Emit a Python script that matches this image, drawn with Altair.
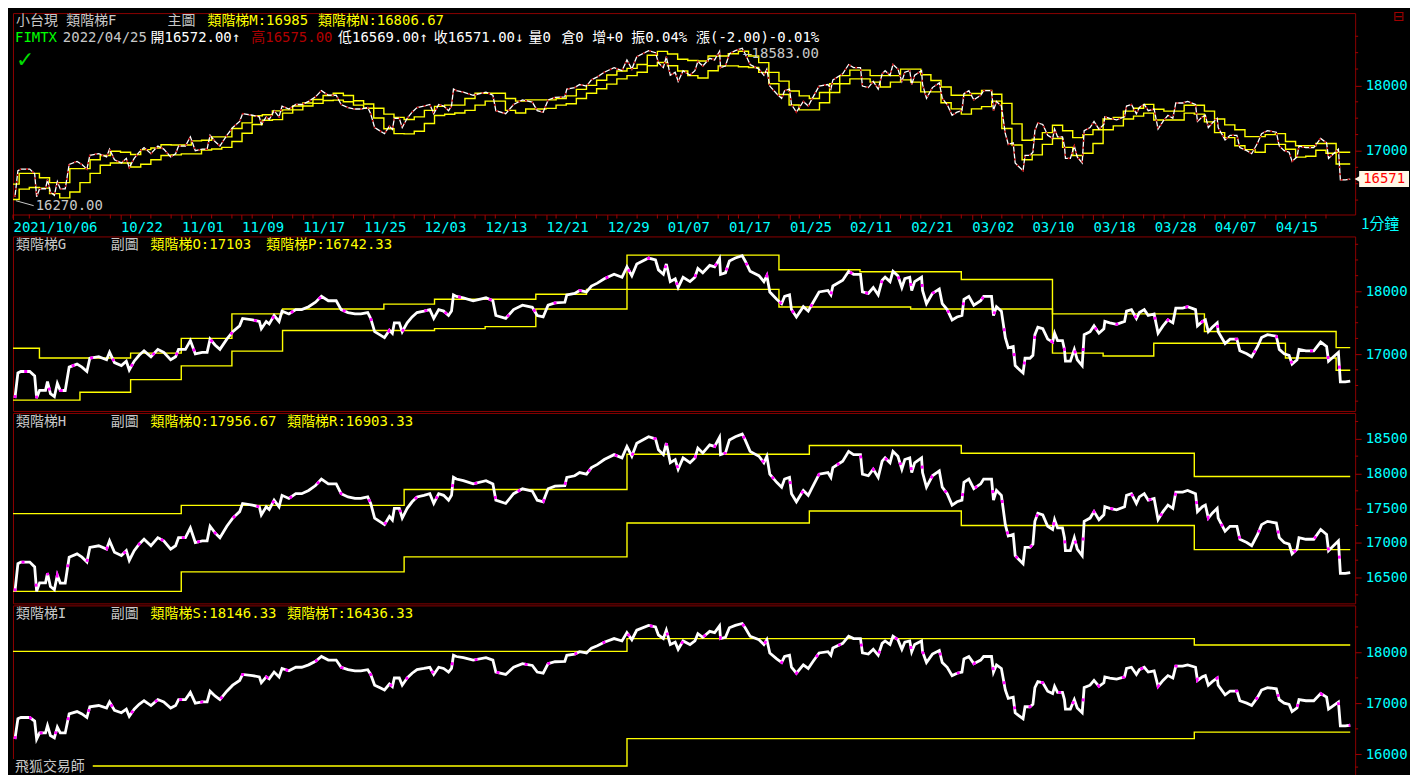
import altair as alt
import pandas as pd

FONT = "DejaVu Sans Mono, Noto Sans CJK TC, monospace"
CJK = "Noto Sans CJK TC, DejaVu Sans, sans-serif"
CYAN = "#00FFFF"
YEL = "#FFFF00"
DRED = "#8B0000"
GREY = "#C8C8C8"
WHITE = "#FFFFFF"
MAG = "#FF00FF"

BAR_PER_DAY = 10.28
DAY_SHIFT = 4
END_BAR = 1357
X_MAX = 1362
W = 1346
H1, H2, H3, H4 = 202, 175, 191, 171

# ---------------- price series (bar index, close) ----------------
price_bar = [2, 5, 8, 17, 22, 24, 27, 33, 35, 38, 42, 45, 48, 53, 57, 65, 70, 75, 78, 87,
             95, 98, 103, 110, 115, 118, 123, 128, 133, 140, 147, 153, 160, 165, 168, 175, 180, 185, 192, 197,
             200, 205, 210, 217, 223, 230, 233, 243, 250, 252, 257, 260, 265, 270, 273, 280, 287, 293, 300, 307,
             313, 320, 328, 333, 340, 347, 353, 360, 363, 367, 372, 377, 382, 385, 387, 392, 395, 400, 405, 410,
             417, 423, 427, 432, 437, 442, 445, 447,
             450, 457, 467, 480, 487, 490, 500, 508, 517, 527, 532, 538, 543, 550, 560, 562, 570, 575, 582, 587,
             593, 600, 610, 618, 623, 628, 633, 645, 652, 655, 660, 663, 667, 672, 675, 680, 687, 692, 695, 700,
             707, 712, 717, 718, 723, 727, 733, 740, 743, 748, 757, 762, 765, 768, 775, 780, 783, 788, 790, 795,
             802, 807, 812, 818, 827, 830, 832, 842, 848, 853, 860, 862, 868, 873, 878, 882, 885, 890, 893, 898,
             902, 905, 910,
             912, 915, 922, 923, 927, 933, 940, 943, 948, 953, 958, 963, 965, 970, 975, 982, 985, 993, 995, 998,
             1003, 1007, 1010, 1015, 1017, 1020, 1025, 1027, 1032, 1035, 1037, 1040, 1045, 1050, 1055, 1057, 1060, 1065, 1067, 1068,
             1073, 1077, 1080, 1085, 1087, 1093, 1097, 1102, 1107, 1108, 1113, 1120, 1128, 1130, 1135, 1140, 1143, 1148, 1152, 1158,
             1162, 1167, 1172, 1177, 1180, 1187, 1192, 1200, 1202, 1207, 1210, 1213, 1217, 1222, 1223, 1230, 1235, 1242, 1245, 1252,
             1257, 1263, 1267, 1273, 1282, 1285, 1290, 1295, 1298, 1303, 1305, 1312, 1320, 1327, 1333, 1335, 1340, 1345, 1347, 1352,
             1357]
price_close = [16300, 16700, 16723, 16723, 16652, 16300, 16423, 16423, 16563, 16370, 16324, 16535, 16420, 16420, 16793, 16840, 16793, 16723, 16934, 16958,
               16910, 17028, 16864, 16817, 16887, 16746, 16887, 16981, 17052, 16958, 17075, 17028, 16910, 16958, 17075, 17075, 17216, 17005, 17028, 17028,
               17239, 17145, 17075, 17239, 17357, 17450, 17568, 17545, 17520, 17404, 17520, 17480, 17615, 17520, 17685, 17640, 17709, 17709, 17756, 17826,
               17920, 17850, 17850, 17709, 17662, 17640, 17640, 17662, 17568, 17357, 17310, 17263, 17380, 17330, 17498, 17498, 17357, 17498, 17592, 17662,
               17685, 17709, 17568, 17709, 17685, 17615, 17685, 17944,
               17920, 17897, 17850, 17897, 17850, 17615, 17568, 17709, 17779, 17745, 17615, 17592, 17779, 17817, 17826, 17944, 17967, 18014, 17990, 18085,
               18131, 18201, 18272, 18225, 18390, 18249, 18437, 18531, 18500, 18342, 18272, 18437, 18155, 18200, 18061, 18225, 18155, 18225, 18366, 18296,
               18413, 18390, 18521, 18272, 18296, 18484, 18531, 18568, 18484, 18319, 18249, 18155, 18249, 17990, 17873, 17803, 17920, 17944, 17709, 17592,
               17756, 17685, 17826, 17990, 18014, 17944, 18085, 18178, 18319, 18272, 18272, 17990, 17967, 18061, 17944, 18178, 18225, 18155, 18319, 18249,
               18061, 18201, 18225,
               18014, 18155, 18225, 18014, 17803, 17967, 18038, 17803, 17709, 17545, 17592, 17615, 17873, 17920, 17780, 17850, 17920, 17920, 17615, 17756,
               17685, 17263, 17099, 17122, 16817, 16770, 16700, 16934, 16934, 16981, 17310, 17427, 17404, 17239, 17192, 17333, 17216, 17216, 17075, 16887,
               16887, 17075, 16910, 16817, 17310, 17357, 17450, 17333, 17404, 17521, 17498, 17475, 17521, 17685, 17709, 17568, 17662, 17709, 17615, 17640,
               17333, 17450, 17545, 17498, 17732, 17732, 17756, 17709, 17450, 17521, 17545, 17357, 17427, 17498, 17357, 17169, 17239, 17239, 17052, 17005,
               16958, 17122, 17263, 17310, 17286, 17075, 17005, 16981, 16840, 16910, 17075, 17052, 17052, 17192, 17122, 16887, 16958, 17028, 16559, 16559,
               16571]

# ---------------- daily ladders M / N (panel F), one value per trading day ----------------
ladder_m = [16493, 16657, 16657, 16592, 16517, 16517, 16731, 16731, 16866, 16930,
            16995, 16980, 16945, 17020, 17045, 17095, 17090, 17090, 17154, 17164,
            17214, 17214, 17343, 17428, 17537, 17552, 17612, 17627, 17687, 17731,
            17786, 17846, 17881, 17846, 17766, 17716, 17652, 17562, 17512,
            17480, 17520, 17620, 17680, 17700, 17700, 17800, 17880, 17880, 17880,
            17800, 17760, 17780, 17780, 17780, 17800, 17840, 17940, 18000, 18080,
            18160, 18220, 18260, 18320, 18460, 18520, 18480, 18400, 18380,
            18373, 18448, 18448, 18483, 18522, 18448, 18348, 18199, 18065, 17915,
            17841, 17801, 17891, 18025, 18149, 18234, 18234, 18149, 18149, 18149,
            18249, 18249, 18164, 18075, 17975, 17851, 17851, 17876, 17925, 17866,
            17726, 17413, 17164, 17179,
            17279, 17393, 17308, 17204, 17249, 17323, 17488, 17512, 17607, 17652,
            17711, 17637, 17607, 17607, 17697, 17697, 17607, 17488, 17398, 17323,
            17219, 17219, 17249, 17264, 17144, 17080, 17080, 17114, 17114, 16980]
ladder_n = [16258, 16418, 16443, 16433, 16348, 16284, 16373, 16517, 16657, 16781,
            16816, 16816, 16756, 16796, 16866, 16930, 16940, 16955, 16955, 17015,
            17030, 17055, 17144, 17269, 17403, 17468, 17478, 17577, 17627, 17687,
            17726, 17771, 17776, 17751, 17700, 17652, 17502, 17338, 17264,
            17260, 17300, 17420, 17540, 17560, 17580, 17620, 17700, 17760, 17760,
            17620, 17580, 17640, 17640, 17650, 17700, 17720, 17800, 17880, 17950,
            18020, 18100, 18150, 18200, 18300, 18350, 18300, 18220, 18150,
            18114, 18224, 18299, 18299, 18284, 18274, 18199, 18025, 17861, 17701,
            17627, 17627, 17736, 17891, 18025, 18100, 18100, 18050, 17975, 18050,
            18085, 18050, 17901, 17901, 17736, 17642, 17562, 17642, 17677, 17761,
            17343, 17090, 16866, 16940,
            17100, 17189, 17055, 16930, 16965, 17114, 17323, 17383, 17488, 17532,
            17577, 17473, 17473, 17473, 17577, 17562, 17443, 17279, 17204, 17080,
            17020, 16980, 17100, 17100, 17025, 16905, 16920, 17010, 16965, 16801]

# ---------------- weekly ladders O / P (panel G) ----------------
week_start_day = [0, 3, 7, 12, 17, 22, 27, 32, 37, 42, 47, 52, 57, 61, 66, 71, 76, 79, 84, 89,
                  94, 98, 103, 108, 113, 118, 121, 126, 131]
ladder_o = [17094, 16938, 16938, 17016, 17250, 17641, 17719, 17719, 17797, 17875,
            17875, 17953, 18031, 18578, 18578, 18578, 18344, 18344, 18313, 18313,
            18188, 18188, 17641, 17641, 17641, 17359, 17359, 17359, 17103]
ladder_p = [16266, 16266, 16391, 16594, 16813, 17047, 17375, 17375, 17375, 17406,
            17438, 17719, 17719, 18031, 18031, 18031, 17750, 17750, 17750, 17719,
            17719, 17719, 17016, 16969, 17172, 17172, 17172, 16938, 16742]

# ---------------- monthly ladders Q / R (panel H) ----------------
month_start_day = [0, 17, 39, 61, 79, 94, 117]
ladder_q = [17422, 17540, 17770, 18277, 18404, 18291, 17957]
ladder_r = [16300, 16582, 16798, 17286, 17460, 17250, 16903]

# ---------------- quarterly ladders S / T (panel I) ----------------
quarter_start_day = [0, 61, 117]
ladder_s = [18020, 18270, 18146]
ladder_t = [15770, 16308, 16436]

# ---------------- x tick labels ----------------
date_days = [0, 11, 17, 23, 29, 35, 41, 47, 53, 59, 65, 71, 77, 83, 89, 95, 101, 107, 113, 119, 125]
date_labels = ["2021/10/06", "10/22", "11/01", "11/09", "11/17", "11/25", "12/03", "12/13", "12/21",
               "12/29", "01/07", "01/17", "01/25", "02/11", "02/21", "03/02", "03/10", "03/18",
               "03/28", "04/07", "04/15"]


def day_bar(d):
    return max(0.0, d * BAR_PER_DAY - DAY_SHIFT)


def ladder(days, values, name):
    rows = [{"bar": day_bar(d), "v": v, "s": name} for d, v in zip(days, values)]
    rows.append({"bar": END_BAR, "v": values[-1], "s": name})
    return rows


price_df = pd.DataFrame({"bar": price_bar, "v": price_close})
tick_vals = [int(round(day_bar(d))) for d in date_days]
label_map = "{" + ",".join(f"'{t}':'{l}'" for t, l in zip(tick_vals, date_labels)) + "}"
minor_x = [day_bar(d) for d in range(0, 132, 2)]

X_AXIS = alt.Axis(values=tick_vals, labelExpr=label_map + "[datum.value]", orient="bottom",
                  labelAlign="left", labelColor=CYAN, labelFontSize=14, labelFont=FONT,
                  tickColor="#A00000", tickSize=5, domain=False, grid=False, labelPadding=1,
                  minExtent=19, maxExtent=19, title=None, labelFlush=False, labelOverlap=False,
                  labelBaseline="top")


def txt(s, x, y, color, size=14, font=FONT):
    return alt.Chart(alt.Data(values=[{}])).mark_text(
        text=s, color=color, font=font, fontSize=size, align="left", baseline="middle"
    ).encode(x=alt.value(x), y=alt.value(y))


def panel(h, dom, yvals, minor_y, ladder_rows, headers, x_axis=None, thin=False, extra=None):
    xs = alt.X("bar:Q", scale=alt.Scale(domain=[0, X_MAX], nice=False, zero=False), axis=x_axis)
    yax = alt.Axis(orient="right", values=yvals, format="d", labelColor=CYAN, labelFontSize=14,
                   labelFont=FONT, tickColor="#A00000", tickSize=6, domain=False, grid=False,
                   labelPadding=4, title=None, minExtent=54, maxExtent=54, labelAlign="left",
                   labelBaseline="middle")
    ysc = alt.Scale(domain=dom, nice=False, zero=False)

    def ys(f):
        return alt.Y(f, scale=ysc, axis=yax)

    layers = []
    lad = alt.Chart(pd.DataFrame(ladder_rows)).mark_line(
        interpolate="step-after", color=YEL, strokeWidth=1.4
    ).encode(x=xs, y=ys("v:Q"), detail="s:N")
    layers.append(lad)
    if thin:
        layers.append(alt.Chart(price_df).mark_line(color=WHITE, strokeWidth=1.3).encode(x=xs, y=ys("v:Q")))
        layers.append(alt.Chart(price_df).mark_line(color="#B00000", strokeWidth=1.6, strokeDash=[2, 5]).encode(x=xs, y=ys("v:Q")))
    else:
        layers.append(alt.Chart(price_df).mark_line(color=WHITE, strokeWidth=2.8).encode(x=xs, y=ys("v:Q")))
        layers.append(alt.Chart(price_df).mark_line(color=MAG, strokeWidth=2.8, strokeDash=[3, 29]).encode(x=xs, y=ys("v:Q")))
    layers.append(alt.Chart(pd.DataFrame({"v": minor_y})).mark_rule(color="#A00000").encode(
        x=alt.value(W), x2=alt.value(W + 3), y=ys("v:Q")))
    if extra:
        layers += extra(xs, ys)
    layers += headers
    return alt.layer(*layers).properties(width=W, height=h)


# ---- panel F (main) ----
def extra1(xs, ys):
    out = []
    out.append(alt.Chart(pd.DataFrame({"bar": minor_x})).mark_rule(color="#A00000").encode(
        x=xs, y=alt.value(H1), y2=alt.value(H1 + 4)))
    out.append(alt.Chart(pd.DataFrame({"bar": [741], "v": [18583]})).mark_text(
        text="—18583.00", color=GREY, font=FONT, fontSize=14, align="left", baseline="middle", dy=7
    ).encode(x=xs, y=ys("v:Q")))
    out.append(alt.Chart(pd.DataFrame({"bar": [3], "b2": [21], "v": [16240], "v2": [16165]})).mark_rule(
        color=GREY).encode(x=xs, x2="b2:Q", y=ys("v:Q"), y2="v2:Q"))
    out.append(alt.Chart(pd.DataFrame({"bar": [23], "v": [16165]})).mark_text(
        text="16270.00", color=GREY, font=FONT, fontSize=14, align="left", baseline="middle"
    ).encode(x=xs, y=ys("v:Q")))
    tag = pd.DataFrame({"v": [16571]})
    out.append(alt.Chart(tag).mark_tick(orient="horizontal", thickness=16, size=50, color="#FFF8E7",
                                        opacity=1).encode(x=alt.value(W + 29), y=ys("v:Q")))
    out.append(alt.Chart(tag).mark_point(shape="triangle-left", filled=True, size=110, color="#FFF8E7",
                                         opacity=1).encode(x=alt.value(W + 4), y=ys("v:Q")))
    out.append(alt.Chart(tag).mark_text(text="16571", color="#FF0000", font=FONT, fontSize=14,
                                        align="left", baseline="middle").encode(x=alt.value(W + 8), y=ys("v:Q")))
    return out


h1 = [
    txt("小台現 類階梯F", 3, 8, GREY),
    txt("主圖", 155, 8, GREY),
    txt("類階梯M:16985", 195, 8, YEL),
    txt("類階梯N:16806.67", 306, 8, YEL),
    txt("FIMTX", 2, 25, "#00FF00"),
    txt("2022/04/25", 50, 25, GREY),
    txt("開16572.00↑", 138, 25, WHITE),
    txt("高16575.00", 239, 25, "#B00000"),
    txt("低16569.00↑", 326, 25, WHITE),
    txt("收16571.00↓", 422, 25, WHITE),
    txt("量0", 517, 25, WHITE),
    txt("倉0", 550, 25, WHITE),
    txt("增+0", 581, 25, WHITE),
    txt("振0.04%", 620, 25, WHITE),
    txt("漲(-2.00)-0.01%", 685, 25, WHITE),
    txt("✓", 3, 47, "#00DD00", size=22, font="DejaVu Sans"),
    txt("1分鐘", W + 6, H1 + 10, CYAN, size=15, font=CJK),
    txt("⊟", W + 38, 4, "#A00000", size=14, font="DejaVu Sans"),
]
ladF = ladder(range(132), ladder_m, "M") + ladder(range(132), ladder_n, "N")
p1 = panel(H1, [16030, 19104], [17000, 18000], [16250, 16500, 16750, 17250, 17500, 17750, 18250, 18500, 18750],
           ladF, h1, x_axis=X_AXIS, thin=True, extra=extra1)

# ---- panel G ----
h2 = [txt("類階梯G", 3, 9, GREY), txt("副圖", 98, 9, GREY),
      txt("類階梯O:17103", 138, 9, YEL), txt("類階梯P:16742.33", 254, 9, YEL)]
ladG = ladder(week_start_day, ladder_o, "O") + ladder(week_start_day, ladder_p, "P")
p2 = panel(H2, [16094, 18875], [17000, 18000], [16250, 16500, 16750, 17250, 17500, 17750, 18250, 18500, 18750],
           ladG, h2)

# ---- panel H ----
h3 = [txt("類階梯H", 3, 9, GREY), txt("副圖", 98, 9, GREY),
      txt("類階梯Q:17956.67", 138, 9, YEL), txt("類階梯R:16903.33", 275, 9, YEL)]
ladH = ladder(month_start_day, ladder_q, "Q") + ladder(month_start_day, ladder_r, "R")
p3 = panel(H3, [16127, 18873], [16500, 17000, 17500, 18000, 18500], [16250, 16750, 17250, 17750, 18250, 18750],
           ladH, h3)


# ---- panel I ----
def extra4(xs, ys):
    return [alt.Chart(alt.Data(values=[{}])).mark_rect(color="#000000").encode(
        x=alt.value(0), x2=alt.value(80), y=alt.value(H4 - 17), y2=alt.value(H4 - 1))]


h4 = [txt("類階梯I", 3, 9, GREY), txt("副圖", 98, 9, GREY),
      txt("類階梯S:18146.33", 138, 9, YEL), txt("類階梯T:16436.33", 275, 9, YEL),
      txt("飛狐交易師", 2, H4 - 9, GREY)]
ladI = ladder(quarter_start_day, ladder_s, "S") + ladder(quarter_start_day, ladder_t, "T")
p4 = panel(H4, [15577, 18923], [16000, 17000, 18000], [15750, 16500, 17500, 18500],
           ladI, h4, extra=extra4)

chart = alt.vconcat(p1, p2, p3, p4, spacing=0).configure(
    background="#000000", padding=0
).configure_view(stroke="#8B0000", strokeWidth=1)

chart.save("out.html", embed_options={"renderer": "svg", "actions": False})
